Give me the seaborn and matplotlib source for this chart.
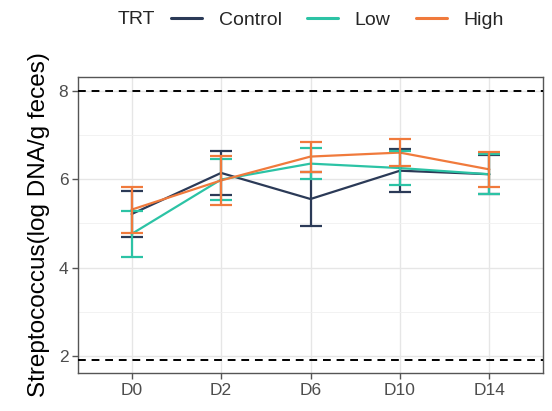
import matplotlib
matplotlib.use("Agg")
import matplotlib.pyplot as plt
from matplotlib.lines import Line2D
import numpy as np
import pandas as pd
import seaborn as sns

# Sampling days and treatment groups
days = ["D0", "D2", "D6", "D10", "D14"]
groups = ["Control", "Low", "High"]

# Mean Streptococcus abundance (log DNA/g feces) and standard error per group
control_mean = [5.21, 6.14, 5.55, 6.19, 6.11]
control_se = [0.53, 0.50, 0.61, 0.48, 0.44]
low_mean = [4.76, 5.99, 6.35, 6.25, 6.11]
low_se = [0.53, 0.46, 0.35, 0.38, 0.45]
high_mean = [5.31, 5.97, 6.51, 6.60, 6.22]
high_se = [0.52, 0.56, 0.34, 0.31, 0.40]

# Reference limits drawn as dashed lines
upper_limit = 8.0
lower_limit = 1.9

colors = {"Control": "#2B3A57", "Low": "#2CC3A5", "High": "#F07A3C"}

means = {"Control": control_mean, "Low": low_mean, "High": high_mean}
ses = {"Control": control_se, "Low": low_se, "High": high_se}

df = pd.DataFrame({
    "Day": days * 3,
    "TRT": [g for g in groups for _ in days],
    "mean": control_mean + low_mean + high_mean,
    "se": control_se + low_se + high_se,
})

sns.set_theme(style="whitegrid")
plt.rcParams["font.family"] = ["Liberation Sans", "DejaVu Sans"]

fig = plt.figure(figsize=(5.52, 4.11), dpi=100)
ax = fig.add_axes([0.1413, 0.0925, 0.8424, 0.7202])

sns.lineplot(data=df, x="Day", y="mean", hue="TRT", hue_order=groups,
             palette=colors, sort=False, linewidth=1.6, legend=False,
             errorbar=None, ax=ax, zorder=3)

xpos = np.arange(len(days))
for g in groups:
    ax.errorbar(xpos, means[g], yerr=ses[g], fmt="none", ecolor=colors[g],
                elinewidth=1.6, capsize=8, capthick=1.6, zorder=3)

ax.axhline(upper_limit, color="black", linestyle=(0, (4, 3)), linewidth=1.4, zorder=4)
ax.axhline(lower_limit, color="black", linestyle=(0, (4, 3)), linewidth=1.4, zorder=4)

ax.set_xlim(-0.6, 4.6)
ax.set_ylim(1.615, 8.31)
ax.set_yticks([2, 4, 6, 8])
ax.set_yticks([3, 5, 7], minor=True)
ax.set_xlabel("")
ax.set_ylabel("Streptococcus(log DNA/g feces)", fontsize=17.5, color="black", labelpad=6)

ax.set_facecolor("white")
ax.grid(which="major", color="#E6E6E6", linewidth=1.0)
ax.grid(which="minor", axis="y", color="#F0F0F0", linewidth=0.6)
ax.set_axisbelow(True)
for s in ax.spines.values():
    s.set_visible(True)
    s.set_color("#555555")
    s.set_linewidth(1.0)
ax.tick_params(axis="both", which="major", length=4, width=1.0, color="#555555",
               labelsize=12.5, labelcolor="#4D4D4D", pad=3, bottom=True, left=True)
ax.tick_params(axis="both", which="minor", length=0)

# Legend across the top
fig.text(118 / 552, 1 - 20 / 411, "TRT", fontsize=14, va="center", ha="left")
handles = [Line2D([0], [0], color=colors[g], linewidth=2.2) for g in groups]
fig.legend(handles, groups, loc="center left", bbox_to_anchor=(171 / 552, 1 - 20 / 411),
           ncol=3, frameon=False, fontsize=14, handlelength=1.6, handletextpad=0.85,
           columnspacing=1.3, borderaxespad=0, borderpad=0)

fig.savefig("out.png", dpi=100)
